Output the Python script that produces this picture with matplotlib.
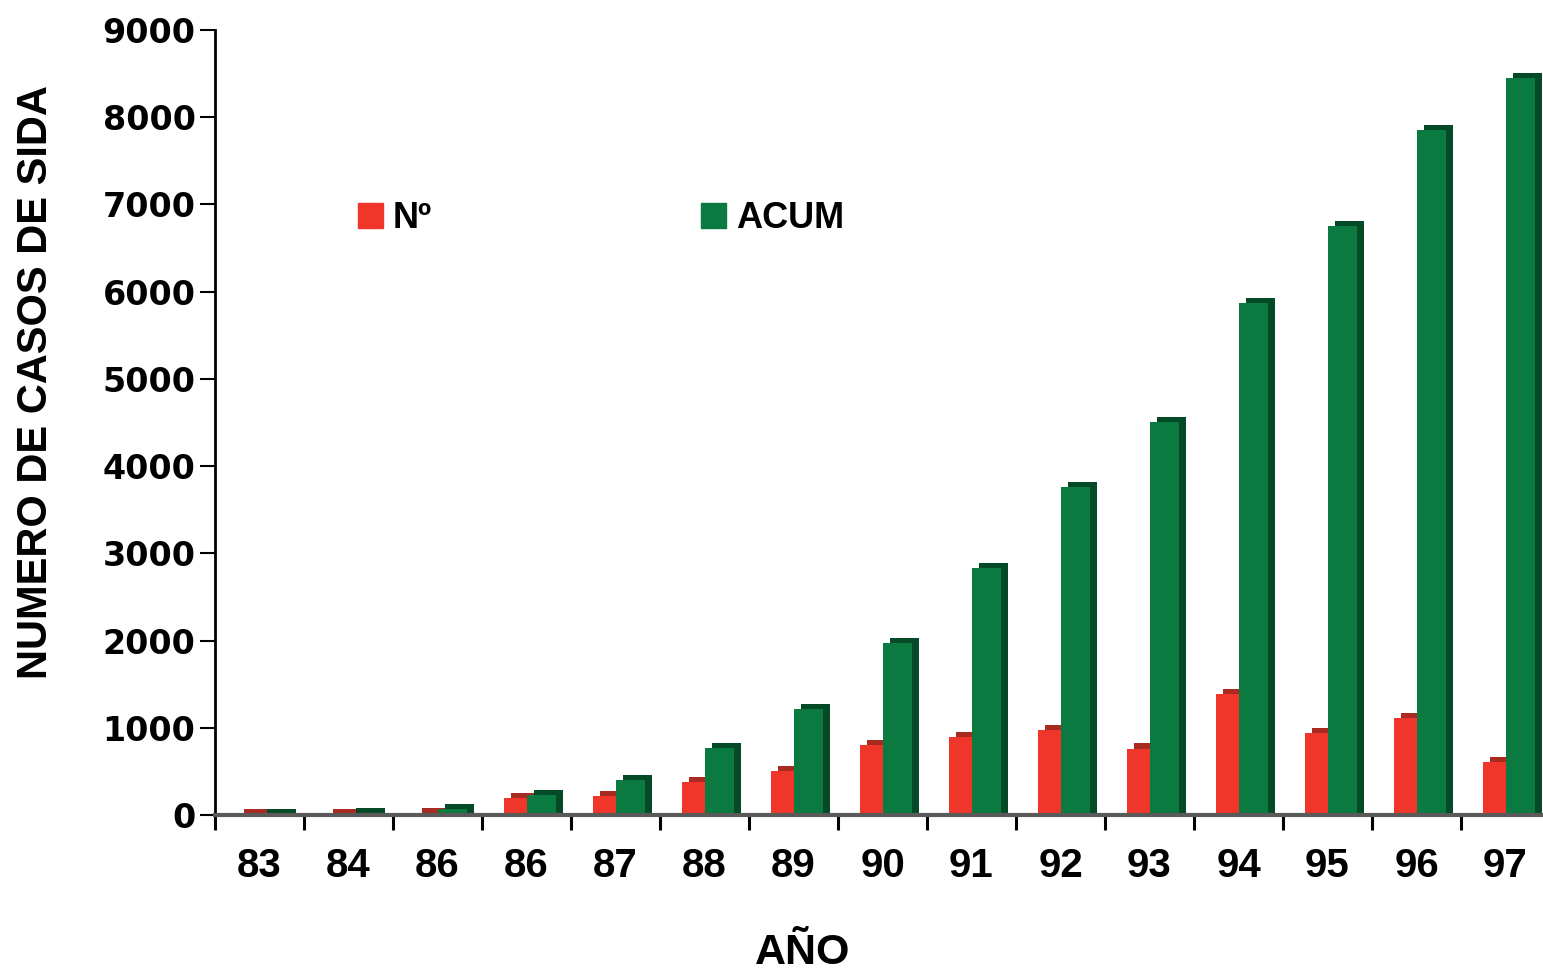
import matplotlib
matplotlib.use("Agg")
import matplotlib.pyplot as plt
from matplotlib.patches import Patch
import numpy as np

plt.rcParams['font.family'] = ['Liberation Sans', 'DejaVu Sans']
plt.rcParams['font.weight'] = 'bold'

# datos (casos de SIDA por año y acumulado)
years = ['83', '84', '86', '86', '87', '88', '89', '90', '91', '92', '93', '94', '95', '96', '97']
nro = [5, 10, 20, 190, 220, 380, 500, 800, 890, 970, 760, 1390, 940, 1110, 610]
acum = [10, 15, 70, 230, 400, 770, 1215, 1970, 2830, 3760, 4500, 5870, 6750, 7850, 8450]

red, red_dk = '#f0362a', '#a82a20'
green, green_dk = '#0b7a40', '#054a26'

W, H = 1543, 975
fig = plt.figure(figsize=(W / 100, H / 100), dpi=100)
# el eje se sale un poco por la derecha, como en el original
ax = fig.add_axes([215 / W, 1 - 815 / H, 1335 / W, 785 / H])

x = np.arange(len(years))
dx, dy = 0.075, 60  # profundidad falsa 3D

def bar3d(xs, vals, w, c, cdk, z):
    vals = np.asarray(vals)
    ax.bar(xs + dx, vals + dy, w, color=cdk, align='edge', zorder=z)
    ax.bar(xs, vals, w, color=c, align='edge', zorder=z + 0.5)

bar3d(x - 0.25, nro, 0.31, red, red_dk, 2)
bar3d(x + 0.01, acum, 0.32, green, green_dk, 3)

ax.set_xlim(-0.5, 14.5)
ax.set_ylim(0, 9000)
ax.set_yticks(np.arange(0, 9001, 1000))
ax.set_xticks(x)
ax.set_xticklabels(years, fontsize=29)
ax.set_xticks(np.arange(-0.5, 14, 1), minor=True)
ax.tick_params(axis='x', which='major', length=0, pad=23)
ax.tick_params(axis='x', which='minor', length=11, width=2.2, direction='out', color='black')
ax.tick_params(axis='y', length=11, width=1.5, pad=3)
for lab in ax.get_yticklabels():
    lab.set_fontfamily('DejaVu Sans')
    lab.set_fontsize(24)

for s in ['top', 'right']:
    ax.spines[s].set_visible(False)
ax.spines['left'].set_linewidth(2)
ax.spines['bottom'].set_color('#5a5a5a')
ax.spines['bottom'].set_linewidth(3)
ax.spines['bottom'].set_zorder(5)

fig.text(803 / W, 1 - 953 / H, 'AÑO', fontsize=31, fontweight='bold', ha='center', va='center')
fig.text(36 / W, 1 - 382 / H, 'NUMERO DE CASOS DE SIDA', fontsize=30, fontweight='bold',
         rotation=90, ha='center', va='center')

handles = [Patch(color=red), Patch(color=green)]
ax.legend(handles, ['Nº', 'ACUM'], ncol=2, frameon=False, fontsize=26,
          loc='center left', bbox_to_anchor=(358 / W, 1 - 219 / H), bbox_transform=fig.transFigure,
          borderaxespad=0, borderpad=0,
          handlelength=0.69, handleheight=0.69, handletextpad=0.28, columnspacing=7.45)

fig.savefig('out.png', dpi=100)
